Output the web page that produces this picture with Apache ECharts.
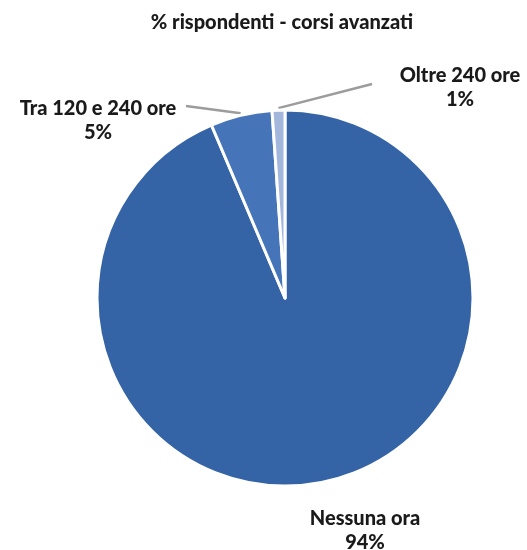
<!DOCTYPE html>
<html>
<head>
<meta charset="utf-8">
<script src="https://cdn.jsdelivr.net/npm/echarts@6/dist/echarts.min.js"></script>
<style>
  html, body { margin: 0; padding: 0; background: #fff; }
  #chart { width: 527px; height: 550px; }
</style>
</head>
<body>
<div id="chart"></div>
<script>
// dati
var categories = ['Nessuna ora', 'Tra 120 e 240 ore', 'Oltre 240 ore']
var values = [93.6, 5.3, 1.1]
var colors = ['#3463a6', '#4674b9', '#a3b6dc']

// posizione delle etichette e fine delle linee guida
var labelPos = [
  { x: 365, y: 531 },
  { x: 98, y: 121 },
  { x: 460, y: 88 }
]
var lineEnd = [null, [186, 106], [372, 84]]

var center = [285, 298]
var radius = 188

// angolo medio di ogni fetta (in senso orario dall'alto)
var total = values.reduce(function (a, b) { return a + b }, 0)
function midAngle (i) {
  var before = 0
  for (var k = 0; k < i; k++) before += values[k]
  return (before + values[i] / 2) / total * Math.PI * 2
}

var chart = echarts.init(document.getElementById('chart'))
var option = {
  animation: false,
  title: {
    text: '% rispondenti - corsi avanzati',
    left: 277,
    top: 8,
    textAlign: 'center',
    textStyle: {
      fontFamily: 'Lato',
      fontWeight: 900,
      fontSize: 20,
      color: '#1a1a1a'
    }
  },
  series: [
    {
      type: 'pie',
      center: center,
      radius: radius,
      startAngle: 90,
      clockwise: true,
      data: categories.map(function (c, i) {
        return {
          name: c,
          value: values[i],
          itemStyle: { color: colors[i] },
          labelLine: { show: i !== 0 }
        }
      }),
      itemStyle: {
        borderColor: '#fff',
        borderWidth: 3
      },
      label: {
        show: true,
        position: 'outside',
        overflow: 'none',
        formatter: function (p) {
          return p.name + '\n' + Math.round(p.percent) + '%'
        },
        fontFamily: 'Lato',
        fontWeight: 900,
        fontSize: 20,
        lineHeight: 24,
        color: '#1a1a1a',
        align: 'center'
      },
      labelLine: {
        length: 2,
        length2: 2,
        lineStyle: { color: '#9c9c9c', width: 2.5 }
      },
      labelLayout: function (params) {
        var i = params.dataIndex
        var p = labelPos[i]
        var res = {
          x: p.x,
          y: p.y,
          align: 'center',
          verticalAlign: 'middle'
        }
        if (lineEnd[i]) {
          // la linea parte dal bordo, a metà della fetta
          var a = midAngle(i)
          var start = [center[0] - Math.sin(a) * (radius + 2) * -1, center[1] - Math.cos(a) * (radius + 2)]
          res.labelLinePoints = [start, lineEnd[i], lineEnd[i]]
        }
        return res
      }
    }
  ]
}
chart.setOption(option)
</script>
</body>
</html>
